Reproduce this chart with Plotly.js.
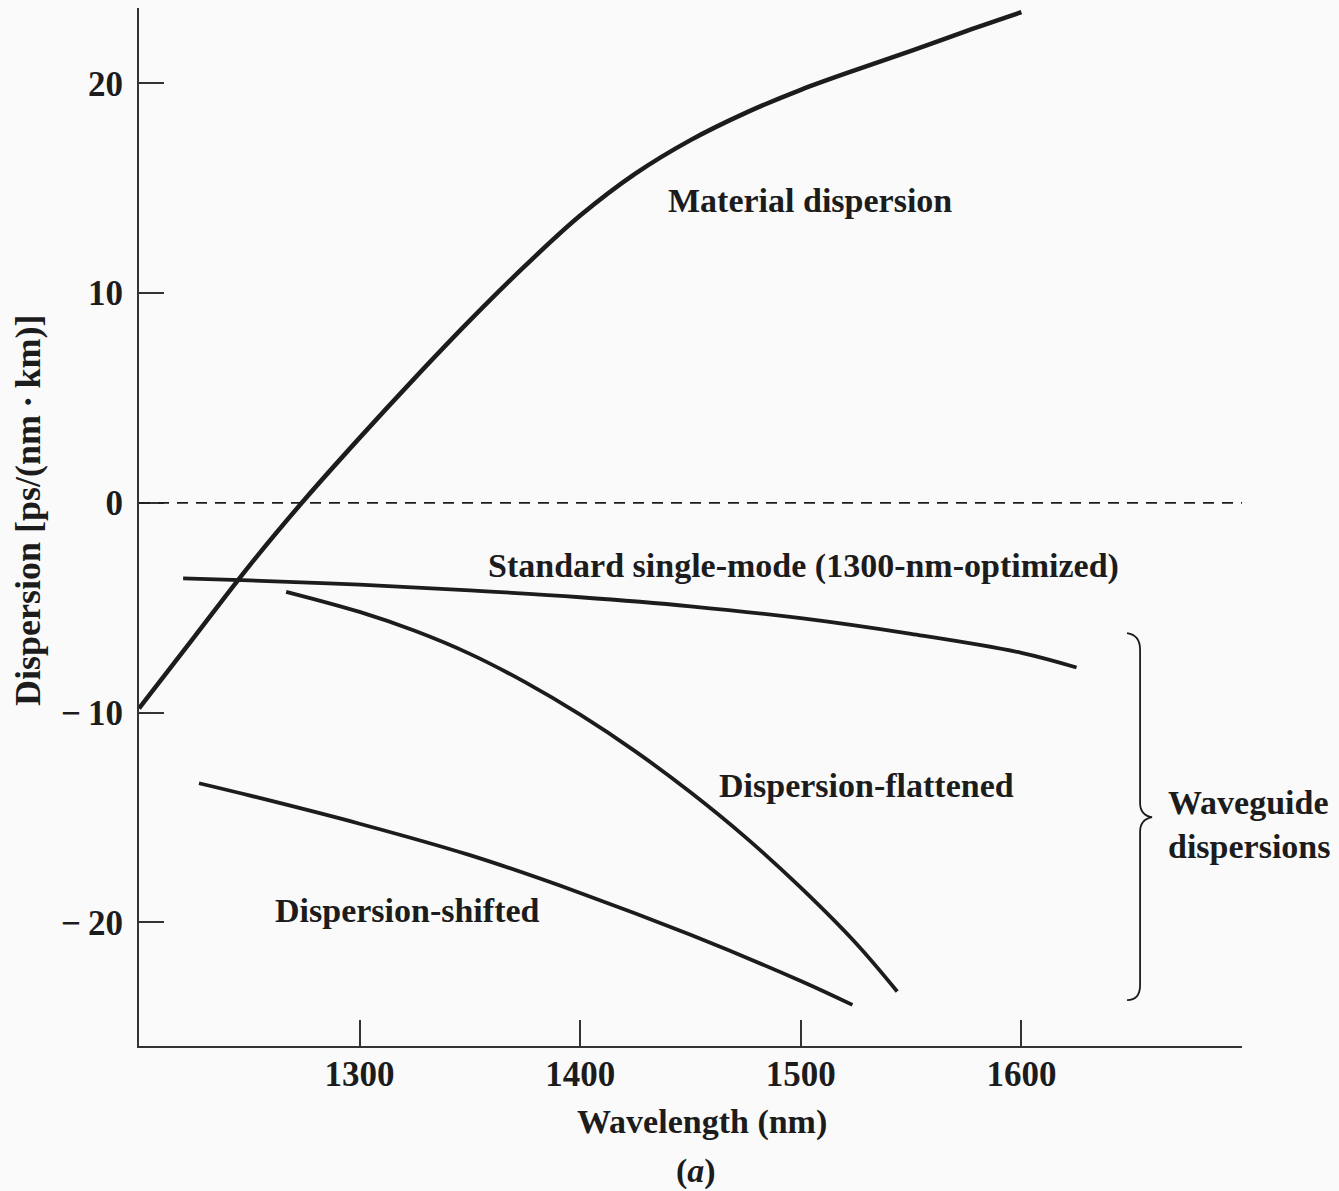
<!DOCTYPE html>
<html>
<head>
<meta charset="utf-8">
<script src="https://cdn.plot.ly/plotly-3.0.1.min.js"></script>
<style>
  html, body { margin: 0; padding: 0; background: #fafafa; }
  #chart { width: 1339px; height: 1191px; }
</style>
</head>
<body>
<div id="chart"></div>
<script>
// ---- Data ----
const materialWavelength = [1200, 1225, 1250, 1275, 1300, 1325, 1350, 1375, 1400, 1425, 1450, 1475, 1500, 1525, 1550, 1575, 1600];
const materialDispersion = [-9.8, -6.4, -3.0, 0.15, 3.1, 5.95, 8.7, 11.3, 13.7, 15.7, 17.3, 18.6, 19.7, 20.65, 21.55, 22.5, 23.4];

const standardWavelength = [1220, 1250, 1300, 1350, 1400, 1450, 1500, 1550, 1600, 1625];
const standardDispersion = [-3.6, -3.7, -3.9, -4.17, -4.5, -4.93, -5.5, -6.25, -7.15, -7.85];

const flattenedWavelength = [1266.7, 1300, 1325, 1350, 1375, 1400, 1425, 1450, 1475, 1500, 1525, 1543.7];
const flattenedDispersion = [-4.24, -5.2, -6.1, -7.2, -8.55, -10.1, -11.85, -13.8, -15.95, -18.35, -21.0, -23.3];

const shiftedWavelength = [1227.2, 1250, 1300, 1350, 1400, 1450, 1500, 1523.4];
const shiftedDispersion = [-13.37, -13.95, -15.3, -16.8, -18.6, -20.6, -22.8, -23.94];

const xTickValues = [1300, 1400, 1500, 1600, 1700];
const xTickLabels = ["1300", "1400", "1500", "1600", ""];
const yTickValues = [-20, -10, 0, 10, 20];
const yTickLabels = ["\u2212\u200920", "\u2212\u200910", "0", "10", "20"];

const xTitle = "Wavelength (nm)";
const yTitle = "Dispersion [ps/(nm\u2009\u00b7\u2009km)]";
const panelLabel = "(<i>a</i>)";

// ---- Styling ----
const ink = "#1c1c1c";
const fontFamily = "'Liberation Serif', 'DejaVu Serif', serif";
const labelFont = { family: fontFamily, size: 34, color: ink, weight: "bold" };

function curve(x, y, name, width) {
  return {
    x: x, y: y, name: name, type: "scatter", mode: "lines",
    line: { color: ink, width: width, shape: "spline", smoothing: 1 },
    hoverinfo: "skip", showlegend: false
  };
}

const traces = [
  curve(materialWavelength, materialDispersion, "Material dispersion", 4.5),
  curve(standardWavelength, standardDispersion, "Standard single-mode", 3.8),
  curve(flattenedWavelength, flattenedDispersion, "Dispersion-flattened", 3.8),
  curve(shiftedWavelength, shiftedDispersion, "Dispersion-shifted", 3.8)
];

// plot area in pixels: left 139, right 1242, top 8, bottom 1046
const L = 139, R = 1242, T = 8, B = 1046;
const px = v => (v - L) / (R - L);
const py = v => (B - v) / (B - T);

function paperText(text, x, y, opts) {
  return Object.assign({ text: text, x: px(x), y: py(y), xref: "paper", yref: "paper",
    xanchor: "center", yanchor: "middle", showarrow: false, font: labelFont }, opts || {});
}

const annotations = [
  { text: "Material dispersion", x: 1504, y: 14.4, xref: "x", yref: "y", xanchor: "center", yanchor: "middle", showarrow: false, font: labelFont },
  { text: "Standard single-mode (1300-nm-optimized)", x: 1501, y: -3.0, xref: "x", yref: "y", xanchor: "center", yanchor: "middle", showarrow: false, font: labelFont },
  { text: "Dispersion-flattened", x: 1529.6, y: -13.5, xref: "x", yref: "y", xanchor: "center", yanchor: "middle", showarrow: false, font: labelFont },
  { text: "Dispersion-shifted", x: 1321.5, y: -19.45, xref: "x", yref: "y", xanchor: "center", yanchor: "middle", showarrow: false, font: labelFont },
  paperText("Waveguide<br>dispersions", 1166, 824, { xanchor: "left", align: "left" }),
  paperText(xTitle, 702, 1122),
  paperText(panelLabel, 696, 1171),
  paperText(yTitle, 28, 511, { textangle: -90, font: Object.assign({}, labelFont, { size: 36 }) })
];

const shapes = [
  { type: "line", xref: "paper", yref: "y", x0: 0, x1: 1, y0: 0, y1: 0,
    line: { color: ink, width: 1.6, dash: "11px,8px" } },
  { type: "path", xref: "x", yref: "y",
    path: "M 1647.9,-6.21 Q 1653.8,-6.3 1653.8,-7.0 L 1653.8,-14.3 Q 1653.8,-14.9 1659.2,-14.99 Q 1653.8,-15.1 1653.8,-15.7 L 1653.8,-23.0 Q 1653.8,-23.7 1647.9,-23.71",
    line: { color: ink, width: 1.8 } }
];

const layout = {
  width: 1339, height: 1191,
  margin: { l: L, r: 1339 - R, t: T, b: 1191 - B, pad: 0 },
  paper_bgcolor: "#fafafa", plot_bgcolor: "#fafafa",
  showlegend: false,
  xaxis: {
    range: [1200, 1700], tickvals: xTickValues, ticktext: xTickLabels,
    ticks: "inside", ticklen: 26, tickwidth: 2, tickcolor: "#333",
    showline: true, linecolor: "#333", linewidth: 2, mirror: false,
    showgrid: false, zeroline: false, ticklabelstandoff: -4,
    tickfont: { family: fontFamily, size: 35, color: ink, weight: "bold" }
  },
  yaxis: {
    range: [-25.9, 23.6], tickvals: yTickValues, ticktext: yTickLabels,
    ticks: "inside", ticklen: 25, tickwidth: 2, tickcolor: "#333",
    showline: true, linecolor: "#333", linewidth: 2, mirror: false,
    showgrid: false, zeroline: false, ticklabelstandoff: 7,
    tickfont: { family: fontFamily, size: 35, color: ink, weight: "bold" }
  },
  annotations: annotations,
  shapes: shapes
};

Plotly.newPlot("chart", traces, layout, { staticPlot: true, displayModeBar: false });
</script>
</body>
</html>
